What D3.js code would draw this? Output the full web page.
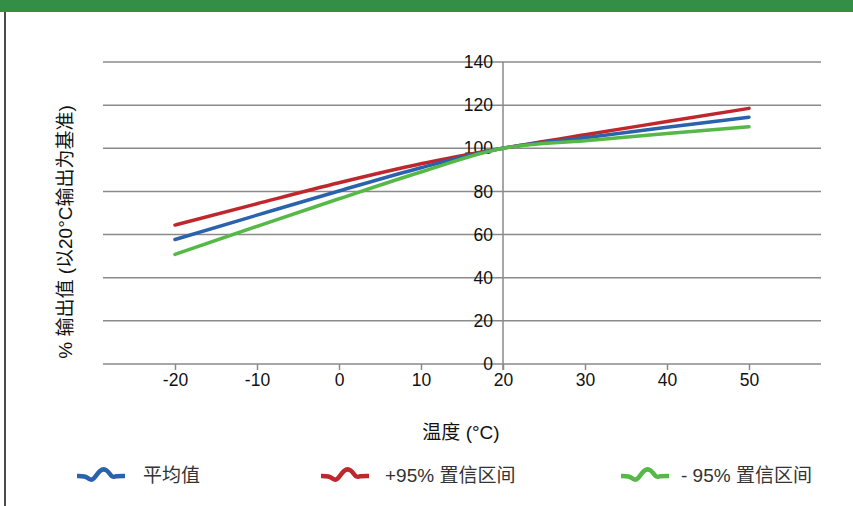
<!DOCTYPE html>
<html>
<head>
<meta charset="utf-8">
<script src="https://cdn.jsdelivr.net/npm/d3@7"></script>
<style>
  body { margin: 0; background: #fff; }
  svg { display: block; }
</style>
</head>
<body>
<div id="chart"></div>
<script>
// temperatures on the x axis
const temps = [-20, -10, 0, 10, 20, 30, 40, 50];
// % output, relative to output at 20°C
const meanValues  = [57.7, 69.0, 80.2, 91.0, 100, 104.9, 109.7, 114.4];
const upperValues = [64.4, 74.3, 84.0, 92.8, 100, 106.3, 112.4, 118.5];
const lowerValues = [50.8, 63.8, 76.6, 89.0, 100, 103.5, 106.8, 110.0];

const xTicks = [-20, -10, 0, 10, 20, 30, 40, 50];
const yTicks = [0, 20, 40, 60, 80, 100, 120, 140];

const seriesNames = ['平均值', '+95% 置信区间', '- 95% 置信区间'];
const seriesColors = ['#2b62ae', '#c0272d', '#56b847'];

const width = 853, height = 506;
const latinFont = '"Liberation Sans", Arial, sans-serif';
const mixedFont = '"Liberation Sans", "Noto Sans CJK SC", sans-serif';

const svg = d3.select('#chart').append('svg')
    .attr('width', width)
    .attr('height', height);

// green header band and left border
svg.append('rect')
    .attr('x', 0).attr('y', 0)
    .attr('width', width).attr('height', 12)
    .attr('fill', '#338f46');
svg.append('line')
    .attr('x1', 5).attr('x2', 5)
    .attr('y1', 12).attr('y2', height)
    .attr('stroke', '#111').attr('stroke-width', 1.5);

// scales: 72px of padding on either side of -20..50
const xScale = d3.scaleLinear().domain([-28.78, 58.78]).range([103, 821]);
const yScale = d3.scaleLinear().domain([0, 140]).range([364, 62]);

const gridColor = '#8a8a8a';

// horizontal grid lines
svg.append('g')
    .selectAll('line')
    .data(yTicks)
    .enter()
    .append('line')
    .attr('x1', xScale.range()[0])
    .attr('x2', xScale.range()[1])
    .attr('y1', d => yScale(d))
    .attr('y2', d => yScale(d))
    .attr('stroke', gridColor)
    .attr('stroke-width', 1.5);

// x axis (at y = 0), ticks pointing down
const xAxis = d3.axisBottom(xScale)
    .tickValues(xTicks)
    .tickFormat(d => String(d))
    .tickSize(6)
    .tickSizeOuter(0)
    .tickPadding(4);

const gx = svg.append('g')
    .attr('transform', `translate(0,${yScale(0)})`)
    .call(xAxis);
gx.select('.domain').remove();
gx.selectAll('.tick line').attr('stroke', gridColor).attr('stroke-width', 1.5);
gx.selectAll('.tick text')
    .attr('fill', '#111')
    .style('font-family', latinFont)
    .style('font-size', '17.5px');

// y axis crossing at x = 20
svg.append('line')
    .attr('x1', xScale(20)).attr('x2', xScale(20))
    .attr('y1', yScale(140)).attr('y2', yScale(0) + 6)
    .attr('stroke', gridColor).attr('stroke-width', 1.5);

const yAxis = d3.axisLeft(yScale)
    .tickValues(yTicks)
    .tickFormat(d => String(d))
    .tickSize(0)
    .tickPadding(10);

const gy = svg.append('g')
    .attr('transform', `translate(${xScale(20)},0)`)
    .call(yAxis);
gy.select('.domain').remove();
gy.selectAll('.tick text')
    .attr('fill', '#111')
    .style('font-family', latinFont)
    .style('font-size', '17.5px');

// series lines
const allSeries = [meanValues, upperValues, lowerValues];
const line = d3.line()
    .x((d, i) => xScale(temps[i]))
    .y(d => yScale(d))
    .curve(d3.curveMonotoneX);

[1, 0, 2].forEach(k => {
    svg.append('path')
        .datum(allSeries[k])
        .attr('fill', 'none')
        .attr('stroke', seriesColors[k])
        .attr('stroke-width', 3.5)
        .attr('stroke-linecap', 'round')
        .attr('d', line);
});

// axis titles
svg.append('text')
    .attr('x', 461)
    .attr('y', 439)
    .attr('text-anchor', 'middle')
    .attr('fill', '#111')
    .style('font-family', mixedFont)
    .style('font-size', '19px')
    .text('温度 (°C)');

svg.append('text')
    .attr('transform', 'translate(72,232) rotate(-90)')
    .attr('text-anchor', 'middle')
    .attr('fill', '#111')
    .style('font-family', mixedFont)
    .style('font-size', '19px')
    .text('% 输出值 (以20°C输出为基准)');

// legend
const legendX = [77, 321, 621];
const textX = [143, 385, 681];
const legendY = 475;

const wave = d3.line().curve(d3.curveBasis);
const wavePts = [[0, 1], [8, 1], [12, 4], [16, 6], [23, -6], [30, -6], [35, 3], [38, 1], [48, 1]];

seriesNames.forEach((name, i) => {
    svg.append('path')
        .attr('transform', `translate(${legendX[i]},${legendY})`)
        .attr('d', wave(wavePts))
        .attr('fill', 'none')
        .attr('stroke', seriesColors[i])
        .attr('stroke-width', 4.5);
    svg.append('text')
        .attr('x', textX[i])
        .attr('y', legendY + 7)
        .attr('fill', '#333')
        .style('font-family', mixedFont)
        .style('font-size', '19px')
        .text(name);
});
</script>
</body>
</html>
